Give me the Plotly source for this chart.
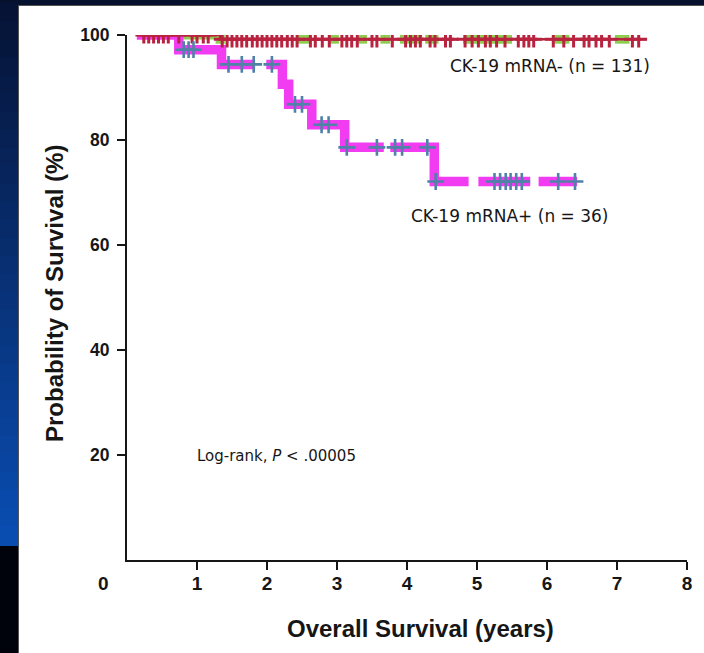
import plotly.graph_objects as go

# ---- Kaplan-Meier data (years, % surviving) ----
# CK-19 mRNA- group
neg_start = 0.14
neg_end = 7.42
neg_event_times = [1.33]
neg_surv = [100.0, 99.2]          # level before first event, then after each event
neg_censor = [0.24, 0.31, 0.38, 0.45, 0.52, 0.59, 0.74, 0.93, 1.00, 1.09, 1.16,
              1.36, 1.43, 1.50, 1.57, 1.64, 1.71, 1.79, 1.86, 1.93, 2.00, 2.07,
              2.14, 2.21, 2.29, 2.36, 2.43, 2.62, 2.69, 2.79, 2.89, 3.07, 3.14,
              3.21, 3.29, 3.50, 3.57, 3.79, 3.98, 4.05, 4.12, 4.19, 4.33, 4.40,
              4.55, 4.62, 4.83, 4.93, 5.02, 5.12, 5.19, 5.28, 5.40, 5.59, 5.67,
              5.74, 5.81, 6.09, 6.24, 6.38, 6.53, 6.60, 6.70, 6.78, 6.89, 7.22,
              7.31]
neg_band_spans = [(0.69, 1.40), (2.44, 2.60), (2.90, 3.03), (3.31, 3.43),
                  (3.62, 3.76), (3.90, 4.22), (4.26, 4.45), (4.80, 5.50),
                  (6.07, 6.32), (6.97, 7.18)]
neg_line_gaps = [(4.72, 4.80), (5.50, 5.56)]

# CK-19 mRNA+ group
pos_start = 0.14
pos_end = 6.43
pos_event_times = [0.74, 1.35, 2.22, 2.31, 2.64, 3.11, 4.39]
pos_surv = [100.0, 97.2, 94.4, 90.6, 86.8, 82.9, 78.6, 72.1]
pos_censor = [0.81, 0.88, 0.95, 1.45, 1.64, 1.81, 2.07, 2.40, 2.50, 2.78, 2.88,
              3.14, 3.57, 3.83, 3.93, 4.29, 4.41, 5.25, 5.33, 5.41, 5.48, 5.56,
              5.64, 6.16, 6.40]
pos_band_gaps = [(1.83, 1.99), (3.67, 3.76), (4.88, 5.02), (5.76, 5.88)]

x_ticks = [1, 2, 3, 4, 5, 6, 7, 8]
y_ticks = [20, 40, 60, 80, 100]

label_neg = "CK-19 mRNA- (n = 131)"
label_pos = "CK-19 mRNA+ (n = 36)"
label_test = "Log-rank, <i>P</i> < .00005"
x_title = "Overall Survival (years)"
y_title = "Probability of Survival (%)"

# ---- page geometry (pixels) ----
W, H = 704, 653
ML, MR, MT, MB = 127, 17, 35, 93
PW, PH = W - ML - MR, H - MT - MB


def paper_x(px):
    return (px - ML) / PW


def paper_y(py):
    return (H - MB - py) / PH


def surv_at(t, start, times, surv):
    level = surv[0]
    for tt, s in zip(times, surv[1:]):
        if t >= tt:
            level = s
    return level


def step_vertices(start, end, times, surv):
    xs, ys = [start], [surv[0]]
    for tt, s_prev, s in zip(times, surv[:-1], surv[1:]):
        xs += [tt, tt]
        ys += [s_prev, s]
    xs.append(end)
    ys.append(surv[-1])
    return xs, ys


def clip_path(xs, ys, keep):
    """Keep the parts of a step path whose x passes the keep test; breaks with None."""
    out_x, out_y = [], []
    n_sub = 400
    prev_in = False
    for i in range(len(xs) - 1):
        x0, y0, x1, y1 = xs[i], ys[i], xs[i + 1], ys[i + 1]
        if x0 == x1:  # vertical drop
            if keep(x0):
                if not prev_in:
                    out_x.append(x0); out_y.append(y0)
                out_x.append(x1); out_y.append(y1)
                prev_in = True
            else:
                if prev_in:
                    out_x.append(None); out_y.append(None)
                prev_in = False
            continue
        k = max(2, int((x1 - x0) * n_sub))
        pts = [x0 + (x1 - x0) * j / k for j in range(k + 1)]
        for j, xv in enumerate(pts):
            inside = keep(xv)
            if inside and not prev_in:
                out_x.append(xv); out_y.append(y0)
            elif not inside and prev_in:
                out_x.append(pts[j - 1]); out_y.append(y0)
                out_x.append(None); out_y.append(None)
            prev_in = inside
        if prev_in:
            out_x.append(x1); out_y.append(y0)
    return out_x, out_y


def in_spans(spans):
    return lambda x: any(a <= x <= b for a, b in spans)


def out_of_spans(spans):
    return lambda x: not any(a < x < b for a, b in spans)


GREEN = "#8fcd52"
RED = "#b8233f"
MAGENTA = "#f23cf2"
STEEL = "#4f82a6"
INK = "#161616"

fig = go.Figure()

nx, ny = step_vertices(neg_start, neg_end, neg_event_times, neg_surv)
px_, py_ = step_vertices(pos_start, pos_end, pos_event_times, pos_surv)

# thick green band under the CK-19 mRNA- curve
gx, gy = clip_path(nx, ny, in_spans(neg_band_spans))
fig.add_trace(go.Scatter(x=gx, y=gy, mode="lines",
                         line=dict(color=GREEN, width=9), hoverinfo="skip"))

# thick magenta CK-19 mRNA+ curve
mx, my = clip_path(px_, py_, out_of_spans(pos_band_gaps))
fig.add_trace(go.Scatter(x=mx, y=my, mode="lines",
                         line=dict(color=MAGENTA, width=9.5), hoverinfo="skip"))

# thin red CK-19 mRNA- curve and its censor ticks
rx, ry = clip_path(nx, ny, out_of_spans(neg_line_gaps))
fig.add_trace(go.Scatter(x=rx, y=ry, mode="lines",
                         line=dict(color=RED, width=2.4), hoverinfo="skip"))
fig.add_trace(go.Scatter(
    x=neg_censor,
    y=[surv_at(t, neg_start, neg_event_times, neg_surv) for t in neg_censor],
    mode="markers",
    marker=dict(symbol="cross-thin", size=12, line=dict(color=RED, width=3)),
    hoverinfo="skip"))

# censor ticks of the CK-19 mRNA+ curve
fig.add_trace(go.Scatter(
    x=pos_censor,
    y=[surv_at(t, pos_start, pos_event_times, pos_surv) for t in pos_censor],
    mode="markers",
    marker=dict(symbol="cross-thin", size=12, line=dict(color=STEEL, width=2.6)),
    hoverinfo="skip"))

# ---- backdrop: dark frame with a bluish left edge around the white panel ----
shapes = []
left_w, top_h = 18, 5
shapes.append(dict(type="rect", xref="paper", yref="paper", layer="below",
                   x0=paper_x(0), x1=paper_x(W), y0=paper_y(0), y1=paper_y(top_h),
                   fillcolor="#06112e", line=dict(width=0)))
bands = 30
edge_bottom = 546
c_top, c_bot = (6, 18, 52), (10, 78, 180)
overlap = 2 / PH
for i in range(bands):
    y0 = top_h + (edge_bottom - top_h) * i / bands
    y1 = top_h + (edge_bottom - top_h) * (i + 1) / bands
    f = (i + 0.5) / bands
    r, g, b = [int(a + (c - a) * f) for a, c in zip(c_top, c_bot)]
    shapes.append(dict(type="rect", xref="paper", yref="paper", layer="below",
                       x0=paper_x(0), x1=paper_x(left_w),
                       y0=paper_y(y1), y1=paper_y(y0) + overlap,
                       fillcolor=f"rgb({r},{g},{b})", line=dict(width=0)))
shapes.append(dict(type="rect", xref="paper", yref="paper", layer="below",
                   x0=paper_x(0), x1=paper_x(left_w),
                   y0=paper_y(H), y1=paper_y(edge_bottom),
                   fillcolor="#01030c", line=dict(width=0)))
shapes.append(dict(type="line", xref="paper", yref="paper", layer="below",
                   x0=paper_x(left_w + 0.5), x1=paper_x(left_w + 0.5),
                   y0=paper_y(H), y1=paper_y(top_h),
                   line=dict(color="#555555", width=1)))
shapes.append(dict(type="line", xref="paper", yref="paper", layer="below",
                   x0=paper_x(left_w), x1=paper_x(W),
                   y0=paper_y(top_h + 0.5), y1=paper_y(top_h + 0.5),
                   line=dict(color="#555555", width=1)))

X_TICK_FONT = dict(family="Liberation Sans", size=19, color=INK, weight="bold")
Y_TICK_FONT = dict(family="Liberation Sans", size=17.5, color=INK, weight="bold")
TITLE_FONT = dict(family="Liberation Sans Narrow, Liberation Sans",
                  size=24, color=INK, weight="bold")
TEXT_FONT = dict(family="DejaVu Sans", size=17, color=INK)

annotations = [
    dict(text=label_neg, x=6.04, y=94.1, xref="x", yref="y", showarrow=False,
         font=TEXT_FONT, xanchor="center", yanchor="middle"),
    dict(text=label_pos, x=5.47, y=65.5, xref="x", yref="y", showarrow=False,
         font=TEXT_FONT, xanchor="center", yanchor="middle"),
    dict(text=label_test, x=2.13, y=19.8, xref="x", yref="y", showarrow=False,
         font=dict(family="DejaVu Sans", size=15, color=INK),
         xanchor="center", yanchor="middle"),
    dict(text="0", x=paper_x(103), y=paper_y(583), xref="paper", yref="paper",
         showarrow=False, font=X_TICK_FONT, xanchor="center", yanchor="middle"),
    dict(text=x_title, x=paper_x(420), y=paper_y(628), xref="paper", yref="paper",
         showarrow=False, font=TITLE_FONT, xanchor="center", yanchor="middle"),
    dict(text=y_title, x=paper_x(54), y=paper_y(294), xref="paper", yref="paper",
         showarrow=False, font=TITLE_FONT, textangle=-90,
         xanchor="center", yanchor="middle"),
]

fig.update_layout(
    width=W, height=H, autosize=False,
    margin=dict(l=ML, r=MR, t=MT, b=MB, pad=0),
    paper_bgcolor="white", plot_bgcolor="white",
    showlegend=False,
    shapes=shapes,
    annotations=annotations,
    xaxis=dict(range=[0, 8], tickvals=x_ticks, ticks="outside", ticklen=8,
               tickwidth=2, tickcolor=INK, showline=True, linecolor=INK,
               linewidth=2, showgrid=False, zeroline=False, tickfont=X_TICK_FONT,
               ticklabelstandoff=-3, fixedrange=True),
    yaxis=dict(range=[0, 100], tickvals=y_ticks, ticks="outside", ticklen=8,
               tickwidth=2, tickcolor=INK, showline=True, linecolor=INK,
               linewidth=2, showgrid=False, zeroline=False, tickfont=Y_TICK_FONT,
               ticklabelstandoff=4, fixedrange=True),
)

fig.write_html("out.html", config=dict(displayModeBar=False))
